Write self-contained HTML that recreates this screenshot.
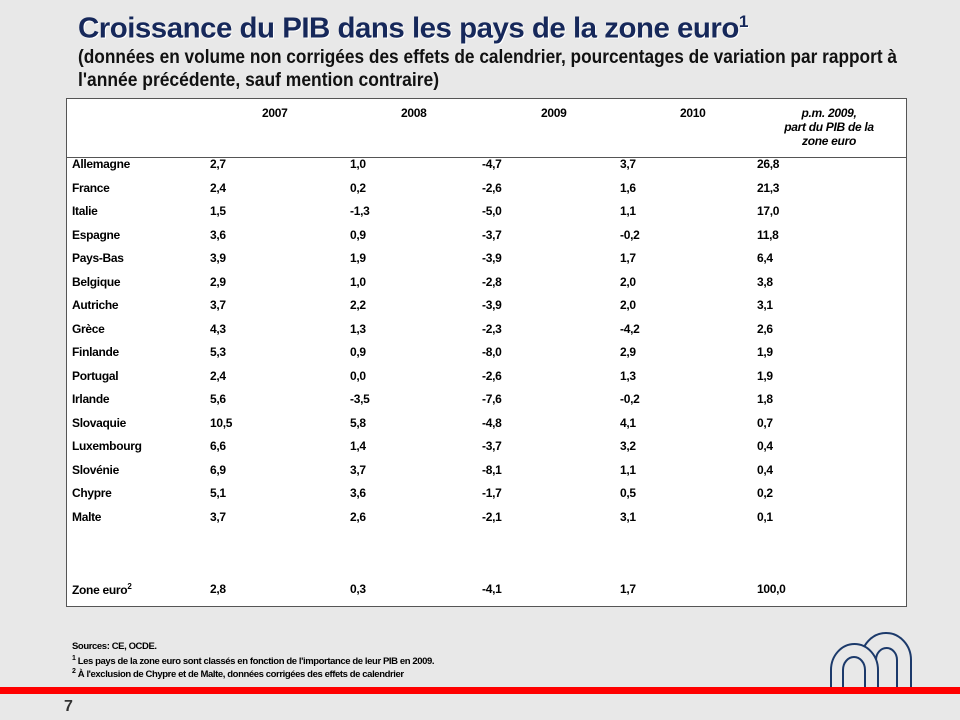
<!DOCTYPE html>
<html><head><meta charset="utf-8"><style>
body{margin:0;width:960px;height:720px;background:#e8e8e8;position:relative;overflow:hidden;font-family:"Liberation Sans Narrow","Liberation Sans",sans-serif;}
.a{position:absolute;white-space:nowrap;}
.t{font-family:"Liberation Sans",sans-serif;font-weight:bold;color:#16285a;font-size:29px;left:78px;top:12px;letter-spacing:-0.5px;text-shadow:1px 1px 0 #fff;transform-origin:0 0;}
.s{font-weight:bold;font-size:19px;color:#111;left:78px;transform-origin:0 0;}
#box{position:absolute;left:66px;top:98px;width:839px;height:507px;background:#fff;border:1px solid #555;}
.c{font-weight:bold;font-size:12px;color:#000;letter-spacing:-0.3px;}
.f{font-weight:bold;font-size:9.5px;color:#000;letter-spacing:-0.4px;}
</style></head><body>
<div class="a t" id="t1">Croissance du PIB dans les pays de la zone euro<sup style="font-size:17px">1</sup></div>
<div class="a s" id="s1" style="top:47px">(données en volume non corrigées des effets de calendrier, pourcentages de variation par rapport à</div>
<div class="a s" id="s2" style="top:70px">l'année précédente, sauf mention contraire)</div>
<div id="box"></div>
<div class="a" style="left:66px;top:157px;width:841px;height:1px;background:#555"></div>
<div class="a c" style="left:262px;top:106px">2007</div>
<div class="a c" style="left:401px;top:106px">2008</div>
<div class="a c" style="left:541px;top:106px">2009</div>
<div class="a c" style="left:680px;top:106px">2010</div>
<div class="a c" style="left:770px;top:106px;width:118px;text-align:center;white-space:normal;font-style:italic;line-height:14px">p.m. 2009,<br>part du PIB de la<br>zone euro</div>
<div id="rows"></div>
<div class="a f" style="left:72px;top:641px">Sources: CE, OCDE.</div>
<div class="a f" style="left:72px;top:655px"><sup style="font-size:7px">1</sup> Les pays de la zone euro sont classés en fonction de l'importance de leur PIB en 2009.</div>
<div class="a f" style="left:72px;top:668px"><sup style="font-size:7px">2</sup> À l'exclusion de Chypre et de Malte, données corrigées des effets de calendrier</div>
<svg class="a" style="left:0;top:0" width="960" height="720">
<g fill="none" stroke="#1c3a6b" stroke-width="2">
<path d="M861 688 V660 A25 27 0 0 1 911 660 V688"/>
<path d="M876 688 V660 A10.5 12 0 0 1 897 660 V688"/>
<path d="M831 688 V670 A23.5 26 0 0 1 878 670 V688" fill="#e8e8e8"/>
<path d="M843 688 V670 A11 13 0 0 1 865 670 V688"/>
</g>
<rect x="0" y="687" width="960" height="7" fill="#ff0000"/>
</svg>
<div class="a" style="left:64px;top:698px;font-weight:bold;font-size:16px;color:#333">7</div>
<script>
var d=[["Allemagne","2,7","1,0","-4,7","3,7","26,8"],["France","2,4","0,2","-2,6","1,6","21,3"],["Italie","1,5","-1,3","-5,0","1,1","17,0"],["Espagne","3,6","0,9","-3,7","-0,2","11,8"],["Pays-Bas","3,9","1,9","-3,9","1,7","6,4"],["Belgique","2,9","1,0","-2,8","2,0","3,8"],["Autriche","3,7","2,2","-3,9","2,0","3,1"],["Grèce","4,3","1,3","-2,3","-4,2","2,6"],["Finlande","5,3","0,9","-8,0","2,9","1,9"],["Portugal","2,4","0,0","-2,6","1,3","1,9"],["Irlande","5,6","-3,5","-7,6","-0,2","1,8"],["Slovaquie","10,5","5,8","-4,8","4,1","0,7"],["Luxembourg","6,6","1,4","-3,7","3,2","0,4"],["Slovénie","6,9","3,7","-8,1","1,1","0,4"],["Chypre","5,1","3,6","-1,7","0,5","0,2"],["Malte","3,7","2,6","-2,1","3,1","0,1"],["Zone euro<sup style='font-size:8px'>2</sup>","2,8","0,3","-4,1","1,7","100,0"]];
var xs=[72,210,350,482,620,757],h="";
d.forEach(function(r,i){var y=i<16?157+i*23.5:582;r.forEach(function(v,j){h+='<div class="a c" style="left:'+xs[j]+'px;top:'+y+'px">'+v+'</div>';});});
document.getElementById('rows').innerHTML=h;
[["t1",670],["s1",819],["s2",361]].forEach(function(p){var e=document.getElementById(p[0]);var w=e.getBoundingClientRect().width;e.style.transform='scaleX('+(p[1]/w)+')';});
</script>
</body></html>
